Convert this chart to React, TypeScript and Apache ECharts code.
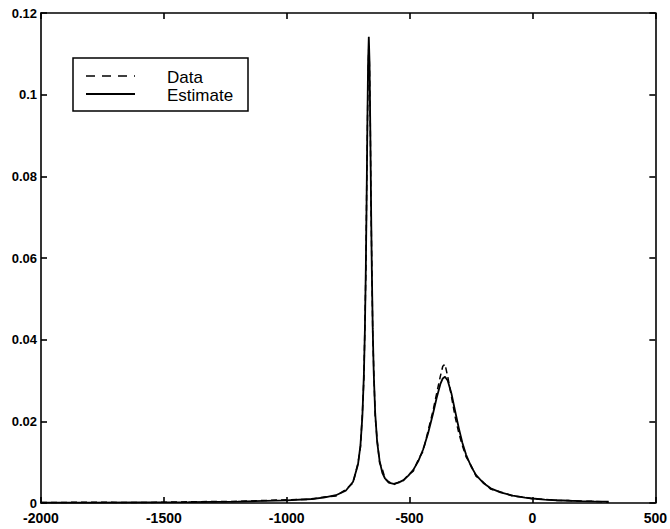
import React, { useEffect, useRef } from "react";
import * as echarts from "echarts";

const freq = [
  -2000, -1800, -1600, -1400, -1200, -1000, -900, -850, -800, -760, -730, -710, -700, -692, -686, -682,
  -678, -675, -672, -669, -666, -663, -660, -657, -654, -650, -646, -640, -632, -622, -611, -600, -585,
  -565, -545, -525, -505, -485, -465, -445, -425, -405, -390, -375, -365, -356, -345, -330, -315, -300,
  -285, -270, -250, -230, -200, -170, -130, -80, -30, 0, 50, 100, 150, 200, 250, 310,
];

const dataValues = [
  0.0001, 0.0002, 0.0001, 0.0003, 0.0004, 0.0008, 0.0009, 0.0015, 0.0017, 0.0033, 0.0049, 0.0098, 0.0136,
  0.0222, 0.0305, 0.043, 0.0565, 0.075, 0.09, 0.105, 0.112, 0.1065, 0.0935, 0.0725, 0.0595, 0.0415, 0.033,
  0.0212, 0.0155, 0.0098, 0.0083, 0.006, 0.0052, 0.0045, 0.0051, 0.0055, 0.0069, 0.0078, 0.0106, 0.0127,
  0.0176, 0.0225, 0.0268, 0.031, 0.0335, 0.034, 0.031, 0.0262, 0.0212, 0.0172, 0.014, 0.0113, 0.0092,
  0.0066, 0.0051, 0.0034, 0.0027, 0.0017, 0.0014, 0.001, 0.0009, 0.0006, 0.0006, 0.0004, 0.0004, 0.0002,
];

const estimateValues = [
  0.0001, 0.00011, 0.00015, 0.00022, 0.00034, 0.00064, 0.00098, 0.0013, 0.0019, 0.003, 0.0052, 0.0094,
  0.0141, 0.0214, 0.0315, 0.0422, 0.0579, 0.0736, 0.0917, 0.1075, 0.1142, 0.1079, 0.092, 0.074, 0.0583,
  0.0427, 0.032, 0.022, 0.0149, 0.0103, 0.0074, 0.006, 0.005, 0.0047, 0.005, 0.0056, 0.0067, 0.0081,
  0.0102, 0.0131, 0.017, 0.0218, 0.0257, 0.0291, 0.0305, 0.0309, 0.03, 0.0269, 0.0226, 0.0184, 0.0147,
  0.0118, 0.009, 0.0069, 0.0049, 0.0036, 0.0026, 0.0018, 0.0013, 0.0011, 0.00084, 0.00067, 0.00055,
  0.00045, 0.00038, 0.00032,
];

const xTicks = [-2000, -1500, -1000, -500, 0, 500];
const yTicks = [0, 0.02, 0.04, 0.06, 0.08, 0.1, 0.12];
const legendLabels = ["Data", "Estimate"];

const FONT = "'Liberation Sans', Arial, Helvetica, sans-serif";

export default function App() {
  const ref = useRef<HTMLDivElement>(null);
  useEffect(() => {
    document.body.style.margin = "0";
    const chart = echarts.init(ref.current!, null, { renderer: "svg" });
    const axisLine = { show: true, onZero: false, lineStyle: { color: "#000", width: 1.6 } };
    const tick = { show: true, inside: true, length: 6, lineStyle: { color: "#000", width: 1.6 } };
    const option: any = {
      animation: false,
      backgroundColor: "#fff",
      grid: { left: 41, top: 13, right: 10, bottom: 26, containLabel: false },
      xAxis: [
        {
          type: "value",
          min: xTicks[0],
          max: xTicks[xTicks.length - 1],
          interval: 500,
          axisLine,
          axisTick: tick,
          splitLine: { show: false },
          axisLabel: {
            color: "#000",
            fontFamily: FONT,
            fontWeight: "bold",
            fontSize: 14,
            lineHeight: 14,
            margin: 8,
            formatter: (v: number) => String(v),
          },
        },
        {
          type: "value",
          position: "top",
          min: xTicks[0],
          max: xTicks[xTicks.length - 1],
          interval: 500,
          axisLine,
          axisTick: tick,
          splitLine: { show: false },
          axisLabel: { show: false },
        },
      ],
      yAxis: [
        {
          type: "value",
          min: yTicks[0],
          max: yTicks[yTicks.length - 1],
          interval: 0.02,
          axisLine,
          axisTick: tick,
          splitLine: { show: false },
          axisLabel: {
            color: "#000",
            fontFamily: FONT,
            fontWeight: "bold",
            fontSize: 13,
            lineHeight: 10,
            margin: 4,
            formatter: (v: number) => (v === 0 ? "0" : String(parseFloat(v.toFixed(2)))),
          },
        },
        {
          type: "value",
          position: "right",
          min: yTicks[0],
          max: yTicks[yTicks.length - 1],
          interval: 0.02,
          axisLine,
          axisTick: tick,
          splitLine: { show: false },
          axisLabel: { show: false },
        },
      ],
      series: [
        {
          name: legendLabels[0],
          type: "line",
          data: freq.map((x, i) => [x, dataValues[i]]),
          showSymbol: false,
          lineStyle: { color: "#000", width: 1.5, type: [6, 4] },
          z: 2,
        },
        {
          name: legendLabels[1],
          type: "line",
          data: freq.map((x, i) => [x, estimateValues[i]]),
          showSymbol: false,
          lineStyle: { color: "#000", width: 1.8 },
          z: 3,
        },
      ],
      graphic: [
        {
          type: "rect",
          shape: { x: 73, y: 58, width: 175, height: 53 },
          style: { fill: "#fff", stroke: "#000", lineWidth: 1.5 },
          z: 10,
        },
        {
          type: "line",
          shape: { x1: 86, y1: 76, x2: 135, y2: 76 },
          style: { stroke: "#000", lineWidth: 1.6, lineDash: [9, 7] },
          z: 11,
        },
        {
          type: "line",
          shape: { x1: 86, y1: 94, x2: 135, y2: 94 },
          style: { stroke: "#000", lineWidth: 1.8 },
          z: 11,
        },
        {
          type: "text",
          x: 167,
          y: 77,
          style: {
            text: legendLabels[0],
            fill: "#000",
            font: `17px ${FONT}`,
            verticalAlign: "middle",
          },
          z: 11,
        },
        {
          type: "text",
          x: 167,
          y: 95,
          style: {
            text: legendLabels[1],
            fill: "#000",
            font: `17px ${FONT}`,
            verticalAlign: "middle",
          },
          z: 11,
        },
      ],
    };
    chart.setOption(option);
    return () => chart.dispose();
  }, []);
  return (
    <div
      ref={ref}
      style={{ position: "fixed", left: 0, top: 0, width: 670, height: 529 }}
    />
  );
}
